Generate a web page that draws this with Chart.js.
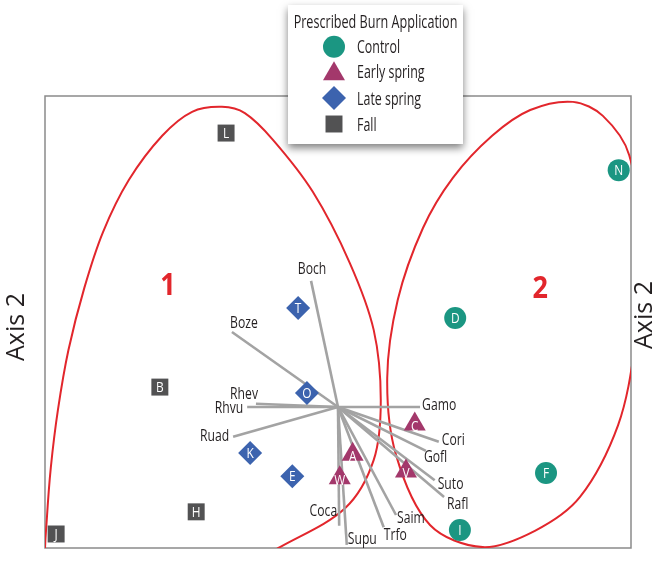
<!DOCTYPE html>
<html lang="en">
<head>
<meta charset="utf-8">
<title>Prescribed Burn Application – ordination</title>
<script src="https://cdn.jsdelivr.net/npm/chart.js@4.4.1/dist/chart.umd.min.js"></script>
<style>
  html, body { margin: 0; padding: 0; background: #ffffff; }
  canvas { display: block; }
</style>
</head>
<body>
<canvas id="ordination" width="655" height="561"></canvas>
<script>
// ---- Site scores (Axis 1 horizontal, Axis 2 vertical), by burn treatment ----
const controlSites = ['N', 'D', 'F', 'I'];
const controlAxis1 = [97.9, 70.0, 85.5, 70.8];
const controlAxis2 = [83.6, 50.9, 16.6, 4.0];

const earlySpringSites = ['C', 'A', 'W', 'V'];
const earlySpringAxis1 = [63.1, 52.5, 50.3, 61.6];
const earlySpringAxis2 = [27.4, 20.7, 15.5, 17.0];

const lateSpringSites = ['T', 'O', 'K', 'E'];
const lateSpringAxis1 = [43.2, 44.7, 35.0, 42.2];
const lateSpringAxis2 = [53.1, 34.3, 21.0, 15.9];

const fallSites = ['L', 'B', 'H', 'J'];
const fallAxis1 = [30.9, 19.6, 25.8, 1.9];
const fallAxis2 = [91.8, 35.6, 8.0, 3.1];

// ---- Species vectors of the joint plot ----
const vectorOrigin = [50.0, 31.2];
const speciesCodes = ['Boch', 'Boze', 'Rhev', 'Rhvu', 'Ruad', 'Gamo', 'Cori', 'Gofl', 'Suto', 'Rafl', 'Saim', 'Trfo', 'Supu', 'Coca'];
const speciesAxis1 = [45.4, 31.9, 36.0, 34.5, 32.1, 64.0, 67.2, 65.0, 66.5, 68.1, 59.9, 57.8, 51.5, 50.2];
const speciesAxis2 = [59.1, 47.8, 31.9, 31.2, 24.6, 31.2, 23.5, 21.5, 15.0, 11.3, 7.3, 4.6, 0.7, 4.9];

// ---- Outlines of the two site groups (traced clockwise, partly beyond the plot frame) ----
const group1Axis1 = [7.7, 17.9, 29.0, 40.1, 51.2, 56.1, 57.3, 56.1, 52.0, 45.7, 38.9, 34.1, 30.2, 25.1, 20.0, 14.3, 9.9, 6.7, 4.0, 2.2, 1.0, 0.3, 0.0, 0.9, 7.7, 17.9];
const group1Axis2 = [-15.9, -14.8, -7.5, 0.2, 8.8, 19.5, 32.7, 48.2, 63.1, 78.8, 90.3, 96.2, 97.6, 96.5, 91.2, 81.4, 69.9, 57.5, 43.8, 30.5, 17.9, 6.2, -2.7, -11.1, -15.9, -14.8];
const group2Axis1 = [100.7, 102.0, 99.7, 95.2, 90.1, 82.8, 76.3, 69.6, 64.5, 60.2, 58.4, 59.9, 65.7, 74.7, 83.6, 91.3, 97.8, 100.7, 102.0];
const group2Axis2 = [44.9, 64.8, 86.9, 95.6, 98.7, 96.9, 91.2, 81.9, 70.8, 54.9, 37.6, 20.6, 5.1, 0.2, 3.8, 11.3, 27.2, 44.9, 64.8];
const groupNames = ['1', '2'];
const groupAxis1 = [21.0, 84.5];
const groupAxis2 = [58.4, 57.7];

// ---- Styling ----
const FONT = '"Open Sans", "Noto Sans", "DejaVu Sans", sans-serif';
const OUTLINE_RED = '#e2262c';
const VECTOR_GREY = '#a3a3a3';
// where each species code sits relative to its vector tip: [dx, dy, alignment]
const speciesLabelPlacement = [
  [1, -13, 'center'], [12, -10, 'center'], [2, -11, 'right'], [-4, 0, 'right'],
  [-4, -2, 'right'], [2, -3, 'left'], [3, -2, 'left'], [-2, 5, 'left'],
  [3, 3, 'left'], [3, 6, 'left'], [1, 2, 'left'], [0, 7, 'left'],
  [1, -7, 'left'], [-2, -16, 'right']
];

const toPoints = (xs, ys) => xs.map((x, i) => ({ x, y: ys[i] }));

function treatment(label, names, xs, ys, pointStyle, radius, color) {
  return {
    type: 'scatter', label, siteNames: names, data: toPoints(xs, ys),
    pointStyle, pointRadius: radius, pointHoverRadius: radius,
    backgroundColor: color, borderColor: color, pointBorderWidth: 0,
    order: 0, clip: false
  };
}

const treatmentDatasets = [
  treatment('Control', controlSites, controlAxis1, controlAxis2, 'circle', 11, '#1b9682'),
  treatment('Early spring', earlySpringSites, earlySpringAxis1, earlySpringAxis2, 'triangle', 12.7, '#a3386b'),
  treatment('Late spring', lateSpringSites, lateSpringAxis1, lateSpringAxis2, 'rectRot', 12, '#3c63ae'),
  treatment('Fall', fallSites, fallAxis1, fallAxis2, 'rect', 12, '#525253')
];

const vectorDatasets = speciesCodes.map((code, i) => ({
  type: 'line', label: code, speciesIndex: i,
  data: [{ x: vectorOrigin[0], y: vectorOrigin[1] }, { x: speciesAxis1[i], y: speciesAxis2[i] }],
  borderColor: VECTOR_GREY, borderWidth: 2.6, pointRadius: 0, fill: false,
  order: 1, clip: false
}));

const outlineDatasets = [[group1Axis1, group1Axis2], [group2Axis1, group2Axis2]].map(([xs, ys], i) => ({
  type: 'line', label: 'Group ' + groupNames[i],
  data: toPoints(xs, ys),
  borderColor: OUTLINE_RED, borderWidth: 2, pointRadius: 0, fill: false,
  tension: 0.33, capBezierPoints: false, order: 2, clip: 0
}));

// Horizontally condensed text, vertically centred on the cap height
function drawText(ctx, text, x, cy, { size = 16, sx = 0.76, align = 'left', color = '#231f20', weight = 'normal' } = {}) {
  ctx.save();
  ctx.translate(x, cy + size * 0.357);
  ctx.scale(sx, 1);
  ctx.font = `${weight} ${size}px ${FONT}`;
  ctx.fillStyle = color;
  ctx.textAlign = align;
  ctx.textBaseline = 'alphabetic';
  ctx.fillText(text, 0, 0);
  ctx.restore();
}

function drawMarker(ctx, ds, x, y) {
  const H = Chart.helpers;
  if (H && H.drawPoint) {
    ctx.save();
    ctx.fillStyle = ds.backgroundColor;
    ctx.strokeStyle = ds.borderColor;
    ctx.lineWidth = 0;
    H.drawPoint(ctx, { pointStyle: ds.pointStyle, radius: ds.pointRadius, rotation: 0, borderWidth: 0 }, x, y);
    ctx.restore();
  }
}

const plotFrame = {
  id: 'plotFrame',
  beforeDatasetsDraw(chart) {
    const { ctx, chartArea: a } = chart;
    ctx.save();
    ctx.strokeStyle = '#8a8a8a';
    ctx.lineWidth = 1.5;
    ctx.strokeRect(a.left, a.top, a.right - a.left, a.bottom - a.top);
    ctx.restore();
  }
};

const plotLabels = {
  id: 'plotLabels',
  afterDatasetsDraw(chart) {
    const ctx = chart.ctx;
    const xs = chart.scales.x, ys = chart.scales.y;
    chart.data.datasets.forEach((ds, i) => {
      const meta = chart.getDatasetMeta(i);
      if (ds.siteNames) {
        meta.data.forEach((el, j) => {
          const dy = ds.pointStyle === 'triangle' ? 2 : 0;
          drawText(ctx, ds.siteNames[j], el.x, el.y + dy, { size: 14, sx: 0.85, align: 'center', color: '#ffffff' });
        });
      } else if (ds.speciesIndex !== undefined) {
        const tip = meta.data[1];
        const [dx, dy, align] = speciesLabelPlacement[ds.speciesIndex];
        drawText(ctx, speciesCodes[ds.speciesIndex], tip.x + dx, tip.y + dy, { size: 16, sx: 0.76, align });
      }
    });
    groupNames.forEach((name, i) => {
      drawText(ctx, name, xs.getPixelForValue(groupAxis1[i]), ys.getPixelForValue(groupAxis2[i]),
        { size: 30, sx: 0.9, align: 'center', color: OUTLINE_RED, weight: 'bold' });
    });
  },
  afterDraw(chart) {
    const ctx = chart.ctx;
    // axis titles on both sides, reading upwards
    [[24, 327], [652, 315]].forEach(([bx, cy]) => {
      ctx.save();
      ctx.translate(bx, cy);
      ctx.rotate(-Math.PI / 2);
      ctx.font = `normal 25px ${FONT}`;
      ctx.fillStyle = '#231f20';
      ctx.textAlign = 'center';
      ctx.textBaseline = 'alphabetic';
      ctx.fillText('Axis 2', 0, 0);
      ctx.restore();
    });

    // treatment legend box with drop shadow
    const box = { left: 288, top: 5, width: 175, height: 139 };
    ctx.save();
    ctx.shadowColor = 'rgba(0,0,0,0.5)';
    ctx.shadowBlur = 8;
    ctx.shadowOffsetY = 4;
    ctx.fillStyle = '#ffffff';
    ctx.fillRect(box.left, box.top, box.width, box.height);
    ctx.restore();
    drawText(ctx, 'Prescribed Burn Application', box.left + box.width / 2, 21.5, { size: 18, sx: 0.70, align: 'center' });
    const rowY = [46.7, 74, 98, 124];
    const textY = [46.7, 71.7, 98.5, 124.5];
    treatmentDatasets.forEach((ds, i) => {
      drawMarker(ctx, ds, 334, rowY[i]);
      drawText(ctx, ds.label, 357, textY[i], { size: 18, sx: 0.69, align: 'left' });
    });
  }
};

new Chart(document.getElementById('ordination'), {
  data: { datasets: [...treatmentDatasets, ...vectorDatasets, ...outlineDatasets] },
  options: {
    responsive: false,
    animation: false,
    events: [],
    layout: { padding: { left: 45, right: 24, top: 96, bottom: 13 } },
    scales: {
      x: { type: 'linear', min: 0, max: 100, display: false },
      y: { type: 'linear', min: 0, max: 100, display: false }
    },
    plugins: { legend: { display: false }, tooltip: { enabled: false } }
  },
  plugins: [plotFrame, plotLabels]
});
</script>
</body>
</html>
